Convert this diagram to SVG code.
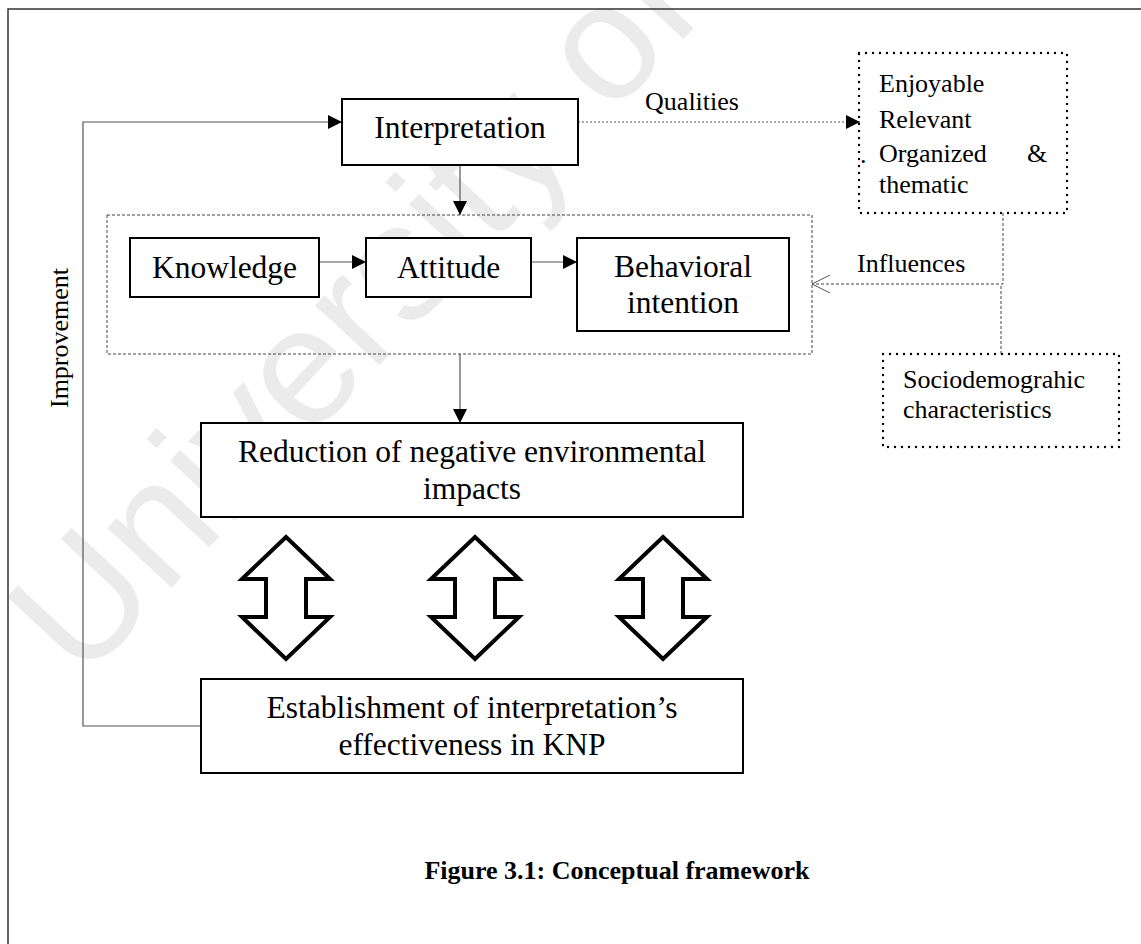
<svg xmlns="http://www.w3.org/2000/svg" width="1141" height="944" viewBox="0 0 1141 944">
  <style>
    .box { fill: #fff; stroke: #000; stroke-width: 2; }
    .dots { fill: none; stroke: #000; stroke-width: 2.4; stroke-dasharray: 0 7; stroke-linecap: round; }
    .dash { fill: none; stroke: #444; stroke-width: 1; stroke-dasharray: 3 2; }
    .wire { fill: none; stroke: #555; stroke-width: 1.2; }
    .dotwire { fill: none; stroke: #555; stroke-width: 1.2; stroke-dasharray: 2 2; }
    .dbl { fill: #fff; stroke: #000; stroke-width: 4; stroke-linejoin: miter; }
    .t { font-family: "Liberation Serif", "Times New Roman", serif; fill: #000; }
    .big { font-size: 31.5px; }
    .small { font-size: 26px; }
    .mid { text-anchor: middle; }
    .wm { font-family: "Liberation Sans", Arial, sans-serif; font-size: 166px; fill: #ebebeb; }
  </style>
  <defs>
    <marker id="head" markerUnits="userSpaceOnUse" markerWidth="14" markerHeight="14" refX="14" refY="7" orient="auto">
      <path d="M0,0 L14,7 L0,14 Z" fill="#000"/>
    </marker>
  </defs>

  <rect width="1141" height="944" fill="#fff"/>
  <!-- background watermark -->
  <text class="wm" transform="translate(82,684) rotate(-47)">University of</text>

  <!-- page frame -->
  <path d="M8,944 V9 H1141" fill="none" stroke="#333" stroke-width="1.5"/>

  <!-- connectors -->
  <g id="connectors">
    <path class="wire" d="M201,726 H83 V122 H342" marker-end="url(#head)"/>
    <path class="wire" d="M460,165 V215" marker-end="url(#head)"/>
    <path class="wire" d="M319,262 H366" marker-end="url(#head)"/>
    <path class="wire" d="M531,262 H577" marker-end="url(#head)"/>
    <path class="wire" d="M460,354 V423" marker-end="url(#head)"/>
    <path class="dotwire" d="M578,122 H860" marker-end="url(#head)"/>
    <path class="dash" d="M1003,213 V284 H812"/>
    <path class="dash" d="M1001,354 V284"/>
    <path d="M830,275 L812,284 L830,293" fill="none" stroke="#555" stroke-width="1"/>
    <text class="t small" x="692" y="110" text-anchor="middle">Qualities</text>
    <text class="t small" x="857" y="272">Influences</text>
    <text class="t small" transform="translate(68,338) rotate(-90)" text-anchor="middle">Improvement</text>
  </g>

  <g id="interpretation">
    <rect class="box" x="342" y="99" width="236" height="66"/>
    <text class="t big mid" x="460" y="138">Interpretation</text>
  </g>

  <g id="kab-group">
    <rect class="dash" x="107" y="215" width="705" height="139"/>
  </g>

  <g id="knowledge">
    <rect class="box" x="130" y="238" width="189" height="59"/>
    <text class="t big mid" x="224.5" y="278">Knowledge</text>
  </g>

  <g id="attitude">
    <rect class="box" x="366" y="238" width="165" height="59"/>
    <text class="t big mid" x="448.5" y="278">Attitude</text>
  </g>

  <g id="behavioral-intention">
    <rect class="box" x="577" y="238" width="212" height="93"/>
    <text class="t big mid" x="683" y="277">Behavioral</text>
    <text class="t big mid" x="683" y="313">intention</text>
  </g>

  <g id="qualities">
    <rect class="dots" x="859" y="53" width="208" height="160"/>
    <text class="t small" x="860" y="163">.</text>
    <text class="t small" x="879" y="92">Enjoyable</text>
    <text class="t small" x="879" y="128">Relevant</text>
    <text class="t small" x="879" y="162">Organized</text>
    <text class="t small" x="1027" y="162">&amp;</text>
    <text class="t small" x="879" y="193">thematic</text>
  </g>

  <g id="sociodemographic">
    <rect class="dots" x="883" y="354" width="236" height="93"/>
    <text class="t small" x="903" y="388">Sociodemograhic</text>
    <text class="t small" x="903" y="418">characteristics</text>
  </g>

  <g id="reduction">
    <rect class="box" x="201" y="423" width="542" height="94"/>
    <text class="t big mid" x="472" y="462">Reduction of negative environmental</text>
    <text class="t big mid" x="472" y="499">impacts</text>
  </g>

  <g id="two-way-arrows">
    <path class="dbl" d="M286,537 L330,579 L306,579 L306,617 L330,617 L286,659 L242,617 L266,617 L266,579 L242,579 Z"/>
    <path class="dbl" d="M475,537 L519,579 L495,579 L495,617 L519,617 L475,659 L431,617 L455,617 L455,579 L431,579 Z"/>
    <path class="dbl" d="M663,537 L707,579 L683,579 L683,617 L707,617 L663,659 L619,617 L643,617 L643,579 L619,579 Z"/>
  </g>

  <g id="establishment">
    <rect class="box" x="201" y="679" width="542" height="94"/>
    <text class="t big mid" x="472" y="718">Establishment of interpretation’s</text>
    <text class="t big mid" x="472" y="755">effectiveness in KNP</text>
  </g>

  <g id="caption">
    <text class="t mid" x="617" y="879" font-size="26" font-weight="bold">Figure 3.1: Conceptual framework</text>
  </g>
</svg>
